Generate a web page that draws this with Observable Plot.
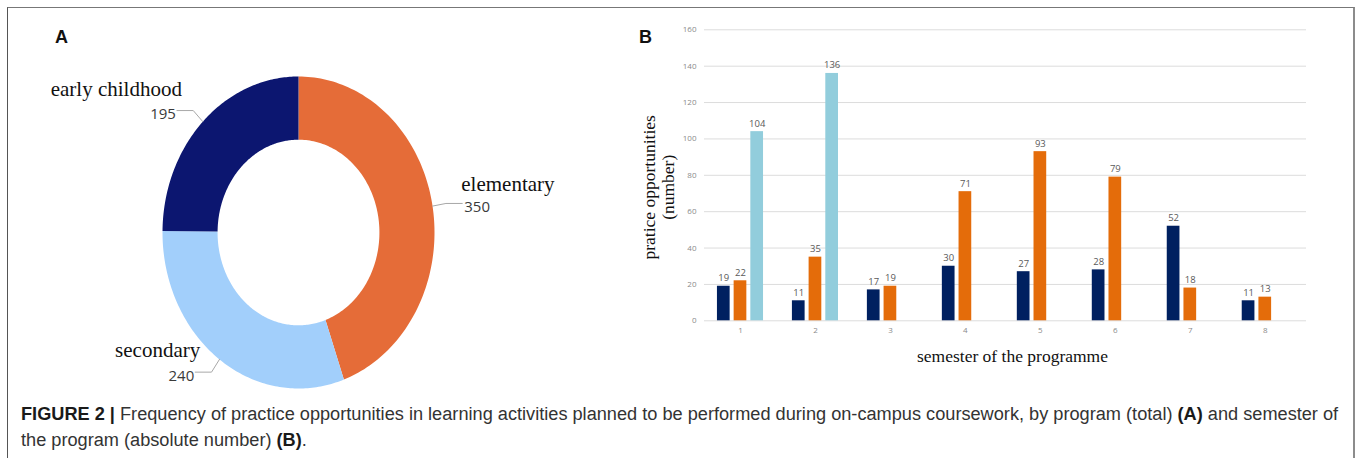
<!DOCTYPE html>
<html>
<head>
<meta charset="utf-8">
<script src="https://cdn.jsdelivr.net/npm/d3@7"></script>
<script src="https://cdn.jsdelivr.net/npm/@observablehq/plot@0.6"></script>
<style>
  html, body { margin: 0; padding: 0; background: #fff; }
  body { width: 1360px; height: 458px; overflow: hidden; position: relative; font-family: "Liberation Sans", Arial, sans-serif; }
  #frame { position: absolute; left: 7px; top: 7px; width: 1345px; height: 470px; border-left: 1px solid #555; border-top: 1px solid #777; border-right: 2px solid #8c8c8c; }
  .panel { position: absolute; font: bold 18px/18px "Liberation Sans", Arial, sans-serif; color: #111; }
  #pie { position: absolute; left: 0; top: 0; }
  #bars { position: absolute; left: 620px; top: 0; }
  #caption { position: absolute; left: 21px; top: 401px; font-size: 16.5px; line-height: 26px; color: #333; white-space: nowrap; }
  #caption b { color: #1a1a1a; }
</style>
</head>
<body>
<div id="frame"></div>
<div class="panel" style="left:55px;top:28px">A</div>
<div class="panel" style="left:639px;top:28px">B</div>
<div id="pie"></div>
<div id="bars"></div>
<div id="caption"><span id="line1"><b>FIGURE 2 |</b> Frequency of practice opportunities in learning activities planned to be performed during on-campus coursework, by program (total) <b>(A)</b> and semester of</span><br>the program (absolute number) <b>(B)</b>.</div>
<script>
// ---------- data ----------
const pieCategories = ["elementary", "secondary", "early childhood"];
const pieTotals = [350, 240, 195];

const semesters = [1, 2, 3, 4, 5, 6, 7, 8];
const earlyChildhood = [19, 11, 17, 30, 27, 28, 52, 11];
const elementary = [22, 35, 19, 71, 93, 79, 18, 13];
const secondary = [104, 136, null, null, null, null, null, null];
const seriesNames = ["early childhood", "elementary", "secondary"];
const yTicks = [0, 20, 40, 60, 80, 100, 120, 140, 160];
const xTitle = "semester of the programme";
const yTitle = "pratice opportunities\n(number)";

// ---------- panel A: donut ----------
const pieColors = ["#E56C38", "#A2CFFB", "#0C1670"];
const innerR = 0.595;
const arcs = d3.pie().sort(null)(pieTotals);
const slicePts = arcs.flatMap((a, i) => {
  const n = 120, pts = [];
  for (let k = 0; k <= n; k++) {
    const t = a.startAngle + (a.endAngle - a.startAngle) * k / n;
    pts.push({cat: pieCategories[i], x: Math.sin(t), y: Math.cos(t)});
  }
  for (let k = n; k >= 0; k--) {
    const t = a.startAngle + (a.endAngle - a.startAngle) * k / n;
    pts.push({cat: pieCategories[i], x: innerR * Math.sin(t), y: innerR * Math.cos(t)});
  }
  return pts;
});
const labels = arcs.map((a, i) => {
  const m = (a.startAngle + a.endAngle) / 2;
  const sx = Math.sin(m), cy = Math.cos(m);
  const side = sx > 0 ? 1 : -1;
  const e = 1.1;
  return {
    cat: pieCategories[i], value: pieTotals[i], side,
    pts: [[sx, cy], [e * sx, e * cy], [e * sx + side * 0.12, e * cy]]
  };
});
const leaderPts = labels.flatMap(l => l.pts.map(p => ({cat: l.cat, x: p[0], y: p[1]})));
const right = labels.filter(l => l.side > 0), left = labels.filter(l => l.side < 0);
const ex = l => l.pts[2][0], ey = l => l.pts[2][1];

const pieChart = Plot.plot({
  width: 600, height: 400,
  marginLeft: 162, marginRight: 166, marginTop: 76, marginBottom: 12,
  x: {domain: [-1, 1], axis: null},
  y: {domain: [-1, 1], axis: null},
  color: {domain: pieCategories, range: pieColors},
  style: {background: "transparent", overflow: "visible"},
  marks: [
    Plot.line(slicePts, {x: "x", y: "y", z: "cat", fill: "cat", stroke: "none", curve: "linear-closed"}),
    Plot.line(leaderPts, {x: "x", y: "y", z: "cat", stroke: "#a8a8a8", strokeWidth: 1}),
    Plot.text(right, {x: ex, y: ey, text: d => String(d.value), textAnchor: "start", dx: 2, dy: 4, fontFamily: "Open Sans", fontSize: 15, fill: "#3a3a3a"}),
    Plot.text(left, {x: ex, y: ey, text: d => String(d.value), textAnchor: "end", dx: -1, dy: 4, fontFamily: "Open Sans", fontSize: 15, fill: "#3a3a3a"}),
    Plot.text(right, {x: ex, y: ey, text: "cat", textAnchor: "start", lineAnchor: "bottom", dx: -1, dy: -12, fontFamily: "Liberation Serif", fontSize: 21, fill: "#111"}),
    Plot.text(left, {x: ex, y: ey, text: "cat", textAnchor: "end", lineAnchor: "bottom", dx: 5, dy: -15, fontFamily: "Liberation Serif", fontSize: 21, fill: "#111"})
  ]
});
document.getElementById("pie").append(pieChart);

// ---------- panel B: grouped bars ----------
const barColors = ["#002060", "#E46C0A", "#92CDDC"];
const seriesValues = [earlyChildhood, elementary, secondary];
const rows = semesters.flatMap((s, i) =>
  seriesNames.map((name, j) => ({semester: s, series: name, value: seriesValues[j][i], k: j - 1}))
).filter(d => d.value != null);
const step = 0.2227, half = 0.0847;

const barChart = Plot.plot({
  width: 720, height: 380,
  marginLeft: 84, marginRight: 34, marginTop: 29.3, marginBottom: 59.7,
  x: {type: "linear", domain: [0.52, 8.55], ticks: semesters, tickSize: 0, tickPadding: 7, tickFormat: d => String(d), label: null},
  y: {domain: [0, 160], ticks: yTicks, tickSize: 0, tickPadding: 8, label: null},
  color: {domain: seriesNames, range: barColors},
  style: {background: "transparent", fontFamily: "Open Sans", fontSize: "8px", color: "#8a8a8a", overflow: "visible"},
  marks: [
    Plot.ruleY(yTicks, {stroke: "#dcdcdc", strokeWidth: 1}),
    Plot.rectY(rows, {
      x1: d => d.semester + d.k * step - half,
      x2: d => d.semester + d.k * step + half,
      y: "value", fill: "series"
    }),
    Plot.text(rows, {
      x: d => d.semester + d.k * step, y: "value", text: d => String(d.value),
      lineAnchor: "bottom", dy: -5, fontFamily: "Open Sans", fontSize: 9.5, fill: "#595959"
    }),
    Plot.text([yTitle], {
      frameAnchor: "left", text: d => d, rotate: -90, textAnchor: "middle", lineAnchor: "middle",
      dx: -46, dy: 12, lineHeight: 1.08,
      fontFamily: "Liberation Serif", fontSize: 17.5, fill: "#111"
    }),
    Plot.text([xTitle], {
      frameAnchor: "bottom", text: d => d, textAnchor: "middle", lineAnchor: "middle", dx: 7, dy: 36,
      fontFamily: "Liberation Serif", fontSize: 17.5, fill: "#111"
    })
  ]
});
document.getElementById("bars").append(barChart);

// fit caption first line to the reference width
const line1 = document.getElementById("line1");
const cap = document.getElementById("caption");
const w = line1.getBoundingClientRect().width;
const target = 1318;
cap.style.fontSize = (16.5 * target / w).toFixed(2) + "px";
</script>
</body>
</html>
